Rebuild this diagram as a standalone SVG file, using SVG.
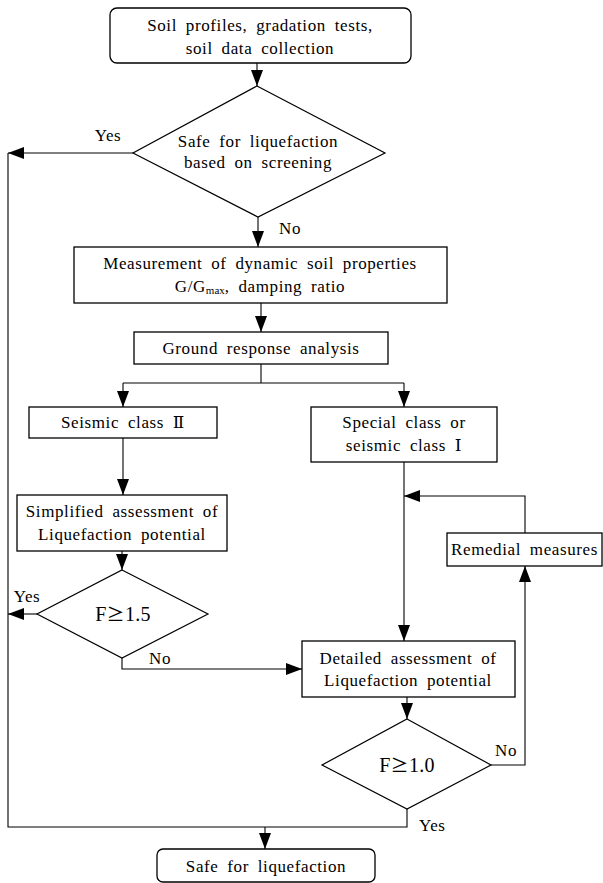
<svg xmlns="http://www.w3.org/2000/svg" width="603" height="883" viewBox="0 0 603 883">
<defs>
<style>
.box{fill:#fff;stroke:#000;stroke-width:1.3}
.dia{fill:#fff;stroke:#000;stroke-width:1.2}
.ln{fill:none;stroke:#000;stroke-width:1.1}
text{font-family:"Liberation Serif","DejaVu Serif","Noto Sans CJK KR",serif;font-size:17px;fill:#000;letter-spacing:0.6px;word-spacing:4px}
.c{text-anchor:middle}
.big{font-size:20px;letter-spacing:0.3px}
.ge{font-family:"Noto Sans CJK KR","Liberation Serif",serif;font-size:18px}
</style>
<marker id="ah" markerWidth="16" markerHeight="12" refX="16" refY="6" orient="auto" markerUnits="userSpaceOnUse">
<path d="M0,0 L16,6 L0,12 z" fill="#000"/>
</marker>
</defs>
<rect width="603" height="883" fill="#fff"/>

<g id="connectors">
<path class="ln" d="M257,63 V86" marker-end="url(#ah)"/>
<path class="ln" d="M133,153 H8" marker-end="url(#ah)"/>
<path class="ln" d="M8,153 V827 H407 V809"/>
<path class="ln" d="M265,827 V849" marker-end="url(#ah)"/>
<path class="ln" d="M258,217 V247" marker-end="url(#ah)"/>
<path class="ln" d="M261,303 V332" marker-end="url(#ah)"/>
<path class="ln" d="M261,364 V383"/>
<path class="ln" d="M123,383 H404"/>
<path class="ln" d="M123,383 V407" marker-end="url(#ah)"/>
<path class="ln" d="M404,383 V407" marker-end="url(#ah)"/>
<path class="ln" d="M123,438 V495" marker-end="url(#ah)"/>
<path class="ln" d="M122,551 V570" marker-end="url(#ah)"/>
<path class="ln" d="M37,614 H8" marker-end="url(#ah)"/>
<path class="ln" d="M122,658 V669 H302" marker-end="url(#ah)"/>
<path class="ln" d="M404,462 V641" marker-end="url(#ah)"/>
<path class="ln" d="M525,533 V496 H404" marker-end="url(#ah)"/>
<path class="ln" d="M407,697 V719" marker-end="url(#ah)"/>
<path class="ln" d="M491,765 H525 V566" marker-end="url(#ah)"/>
<text x="108" y="141" class="c">Yes</text>
<text x="279" y="234">No</text>
<text x="27" y="602" class="c">Yes</text>
<text x="149" y="664">No</text>
<text x="495" y="756">No</text>
<text x="419" y="831">Yes</text>
</g>

<g id="soil-data">
<rect class="box" x="110" y="8" width="301" height="55" rx="7"/>
<text x="260" y="31" class="c">Soil profiles, gradation tests,</text>
<text x="260" y="54" class="c">soil data collection</text>
</g>

<g id="screening">
<polygon class="dia" points="257,86 385,153 258,217 133,153"/>
<text x="258" y="147" class="c">Safe for liquefaction</text>
<text x="258" y="168" class="c">based on screening</text>
</g>

<g id="dynamic-props">
<rect class="box" x="74" y="247" width="373" height="56"/>
<text x="260" y="268.5" class="c">Measurement of dynamic soil properties</text>
<text x="260" y="291.5" class="c">G/G<tspan font-size="11" dy="2" letter-spacing="0">max</tspan><tspan dy="-2">, damping ratio</tspan></text>
</g>

<g id="ground-response">
<rect class="box" x="134" y="332" width="254" height="32"/>
<text x="261" y="353.5" class="c">Ground response analysis</text>
</g>

<g id="seismic-2">
<rect class="box" x="29" y="407" width="188" height="31"/>
<text x="123" y="428" class="c">Seismic class Ⅱ</text>
</g>

<g id="special-class">
<rect class="box" x="311" y="407" width="186" height="55"/>
<text x="404" y="427.5" class="c">Special class or</text>
<text x="404" y="450.5" class="c">seismic class Ⅰ</text>
</g>

<g id="simplified">
<rect class="box" x="17" y="495" width="210" height="56"/>
<text x="122" y="516.5" class="c">Simplified assessment of</text>
<text x="122" y="539.5" class="c">Liquefaction potential</text>
</g>

<g id="remedial">
<rect class="box" x="447" y="533" width="155" height="33"/>
<text x="524.5" y="554.5" class="c">Remedial measures</text>
</g>

<g id="f15">
<polygon class="dia" points="122,570 208,614 122,658 37,614"/>
<text x="123" y="620.5" class="c big">F<tspan class="ge">≥</tspan>1.5</text>
</g>

<g id="detailed">
<rect class="box" x="302" y="641" width="213" height="56"/>
<text x="408" y="663.5" class="c">Detailed assessment of</text>
<text x="408" y="686" class="c">Liquefaction potential</text>
</g>

<g id="f10">
<polygon class="dia" points="407,719 491,765 407,809 322,765"/>
<text x="407" y="771.5" class="c big">F<tspan class="ge">≥</tspan>1.0</text>
</g>

<g id="safe">
<rect class="box" x="157" y="849" width="218" height="33" rx="6"/>
<text x="266" y="871.5" class="c">Safe for liquefaction</text>
</g>
</svg>
